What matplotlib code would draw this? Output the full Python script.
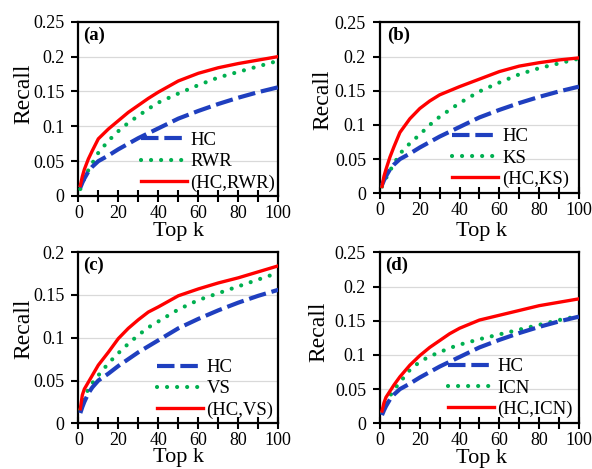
import numpy as np
import matplotlib
matplotlib.use("Agg")
import matplotlib.pyplot as plt

plt.rcParams['font.family'] = ['Liberation Serif', 'DejaVu Serif']

# ---------------- data ----------------
k = [1, 2, 3, 5, 7, 10, 15, 20, 25, 30, 35, 40, 50, 60, 70, 80, 90, 100]

hc = [0.012, 0.019, 0.025, 0.035, 0.042, 0.050, 0.058, 0.067, 0.075, 0.083,
      0.090, 0.097, 0.111, 0.122, 0.132, 0.141, 0.149, 0.156]

rwr = [0.010, 0.018, 0.025, 0.037, 0.047, 0.062, 0.079, 0.093, 0.105, 0.115,
       0.125, 0.134, 0.147, 0.159, 0.170, 0.178, 0.186, 0.194]
hc_rwr = [0.015, 0.028, 0.038, 0.053, 0.065, 0.082, 0.096, 0.108, 0.120, 0.130,
          0.140, 0.149, 0.165, 0.176, 0.184, 0.190, 0.195, 0.200]

ks = [0.010, 0.016, 0.022, 0.033, 0.043, 0.058, 0.073, 0.086, 0.100, 0.112,
      0.122, 0.132, 0.149, 0.162, 0.174, 0.183, 0.190, 0.197]
hc_ks = [0.010, 0.025, 0.035, 0.053, 0.068, 0.089, 0.109, 0.124, 0.135, 0.144,
         0.150, 0.156, 0.167, 0.178, 0.186, 0.191, 0.195, 0.198]

vs = [0.016, 0.024, 0.030, 0.040, 0.047, 0.056, 0.070, 0.082, 0.093, 0.103,
      0.112, 0.119, 0.133, 0.144, 0.152, 0.160, 0.168, 0.176]
hc_vs = [0.017, 0.033, 0.040, 0.048, 0.056, 0.068, 0.083, 0.099, 0.111, 0.121,
         0.130, 0.136, 0.149, 0.157, 0.164, 0.170, 0.177, 0.184]

icn = [0.016, 0.024, 0.030, 0.040, 0.049, 0.060, 0.078, 0.090, 0.098, 0.104,
       0.110, 0.115, 0.123, 0.130, 0.137, 0.144, 0.151, 0.157]
hc_icn = [0.018, 0.030, 0.038, 0.047, 0.056, 0.068, 0.085, 0.099, 0.111, 0.121,
          0.131, 0.139, 0.151, 0.158, 0.165, 0.172, 0.177, 0.182]

panels = [
    # tag, other name, other, combo, y max
    ("(a)", "RWR", rwr, hc_rwr, 0.25),
    ("(b)", "KS", ks, hc_ks, 0.25),
    ("(c)", "VS", vs, hc_vs, 0.2),
    ("(d)", "ICN", icn, hc_icn, 0.25),
]

# ---------------- layout ----------------
# [left, bottom, width, height] in figure fraction
boxes = [
    [0.1323, 0.5821, 0.3378, 0.3716],
    [0.6419, 0.5878, 0.3361, 0.3646],
    [0.1323, 0.0974, 0.3378, 0.3650],
    [0.6419, 0.0974, 0.3361, 0.3646],
]
ylab_pos = [(-0.272, 0.588), (-0.285, 0.546), (-0.272, 0.551), (-0.305, 0.534)]
xlab_pos = [(0.503, -0.205), (0.51, -0.222), (0.503, -0.2), (0.51, -0.205)]
leg_anchor = [(0.995, 0.015), (0.96, 0.02), (0.985, 0.015), (0.98, 0.02)]
tag_pos = [(0.024, 0.924), (0.035, 0.926), (0.024, 0.925), (0.025, 0.925)]

BLUE = '#1F3FBF'
GREEN = '#00B050'
RED = '#FF0000'

fig = plt.figure(figsize=(5.92, 4.69), dpi=100)

for i, (tag, name, other, combo, ymax) in enumerate(panels):
    ax = fig.add_axes(boxes[i])
    ax.plot(k, hc, color=BLUE, lw=3.0, dashes=(4.2, 1.4), label="HC", zorder=4)
    ax.plot(k, other, color=GREEN, lw=3.0, dashes=(0.01, 2.4),
            dash_capstyle='round', label=name, zorder=3)
    ax.plot(k, combo, color=RED, lw=2.4, label="(HC," + name + ")", zorder=5)

    ax.set_xlim(0, 100)
    ax.set_ylim(0, ymax)
    ax.set_xticks(range(0, 101, 20))
    ax.set_xticks(range(10, 100, 20), minor=True)
    yt = np.round(np.arange(0, ymax + 0.001, 0.05), 2)
    ax.set_yticks(yt)
    ax.set_yticklabels(["0" if v == 0 else ("%g" % v) for v in yt])
    ax.grid(axis='y', color='#D9D9D9', lw=0.9, zorder=0)
    ax.set_axisbelow(True)

    for s in ax.spines.values():
        s.set_linewidth(1.6)
        s.set_color('black')
    ax.tick_params(axis='x', which='both', direction='inout', length=8,
                   width=1.5, labelsize=13, pad=2.5)
    ax.tick_params(axis='y', direction='out', length=5, width=1.5,
                   labelsize=13, pad=5)

    ax.set_ylabel("Recall", fontsize=17, va='center')
    ax.yaxis.set_label_coords(*ylab_pos[i])
    ax.set_xlabel("Top k", fontsize=16, va='center')
    ax.xaxis.set_label_coords(*xlab_pos[i])

    ax.text(tag_pos[i][0], tag_pos[i][1], tag, transform=ax.transAxes,
            fontsize=13.5, fontweight='bold', ha='left', va='center')

    ax.legend(loc='lower right', bbox_to_anchor=leg_anchor[i], frameon=False,
              fontsize=13.5, handlelength=2.45, handletextpad=0.2,
              labelspacing=0.22, borderpad=0.1, borderaxespad=0)

fig.savefig("out.png", dpi=100)
